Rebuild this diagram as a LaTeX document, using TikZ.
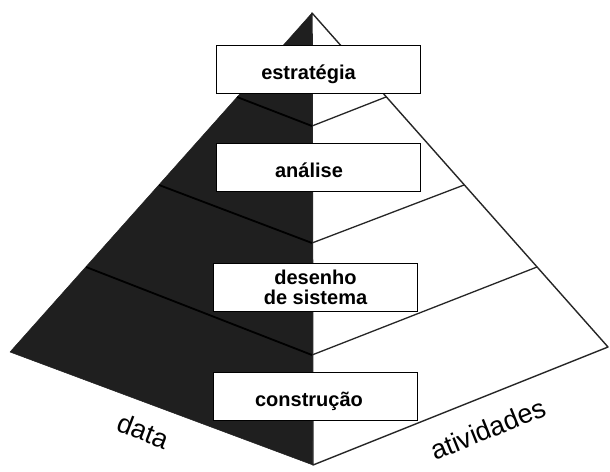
\documentclass[tikz,border=0pt]{standalone}
\usepackage{fontspec}
\setmainfont{Liberation Sans}
\begin{document}
\begin{tikzpicture}[x=1pt,y=-1pt,
  darkface/.style={fill=black!88, draw=black!88, line width=0.5pt, line join=round},
  lightface/.style={fill=white, draw=black!85, line width=1.4pt, line join=round},
  tierline/.style={draw=black!85, line width=1.3pt},
  darkline/.style={draw=black, line width=1.8pt},
  stage/.style={draw=black, line width=0.8pt, fill=white, minimum width=204pt,
    minimum height=48pt, inner sep=0pt, align=center,
    font=\fontsize{20}{20}\selectfont\bfseries},
  oneline/.style={text height=22pt, text depth=2pt},
  side/.style={font=\fontsize{27}{27}\selectfont, inner sep=0pt}]
\useasboundingbox (0,0) rectangle (610,471);
% pyramid corners
\coordinate (apex) at (312,13);
\coordinate (leftc) at (10,352);
\coordinate (rightc) at (608,347);
\coordinate (bottom) at (313,465);
% faces
\path[darkface] (apex) -- (leftc) -- (bottom) -- cycle;
\path[lightface] (apex) -- (rightc) -- (bottom) -- cycle;
% tier points
\coordinate (c1) at (312,126);
\coordinate (c2) at (312,243);
\coordinate (c3) at (312,355);
\coordinate (r1) at (386,97);
\coordinate (r2) at (464,185);
\coordinate (r3) at (537,267);
\coordinate (l1) at (237,97);
\coordinate (l2) at (159,185);
\coordinate (l3) at (86,267);
\draw[tierline] (c1) -- (r1);
\draw[tierline] (c2) -- (r2);
\draw[tierline] (c3) -- (r3);
\draw[darkline] (l1) -- (c1);
\draw[darkline] (l2) -- (c2);
\draw[darkline] (l3) -- (c3);
% stage boxes
\node[stage, oneline] (estrategia) at (318,69) {estratégia\hspace*{19pt}};
\node[stage, oneline] (analise) at (318.5,167) {análise\hspace*{19pt}};
\node[stage] (desenho) at (315.5,287) {desenho\\de sistema};
\node[stage, oneline] (construcao) at (315,396) {construção\hspace*{12pt}};
% side labels
\node[side, rotate=-21] (data) at (143,431) {data};
\node[side, rotate=22] (atividades) at (488,429) {atividades};
\end{tikzpicture}
\end{document}
